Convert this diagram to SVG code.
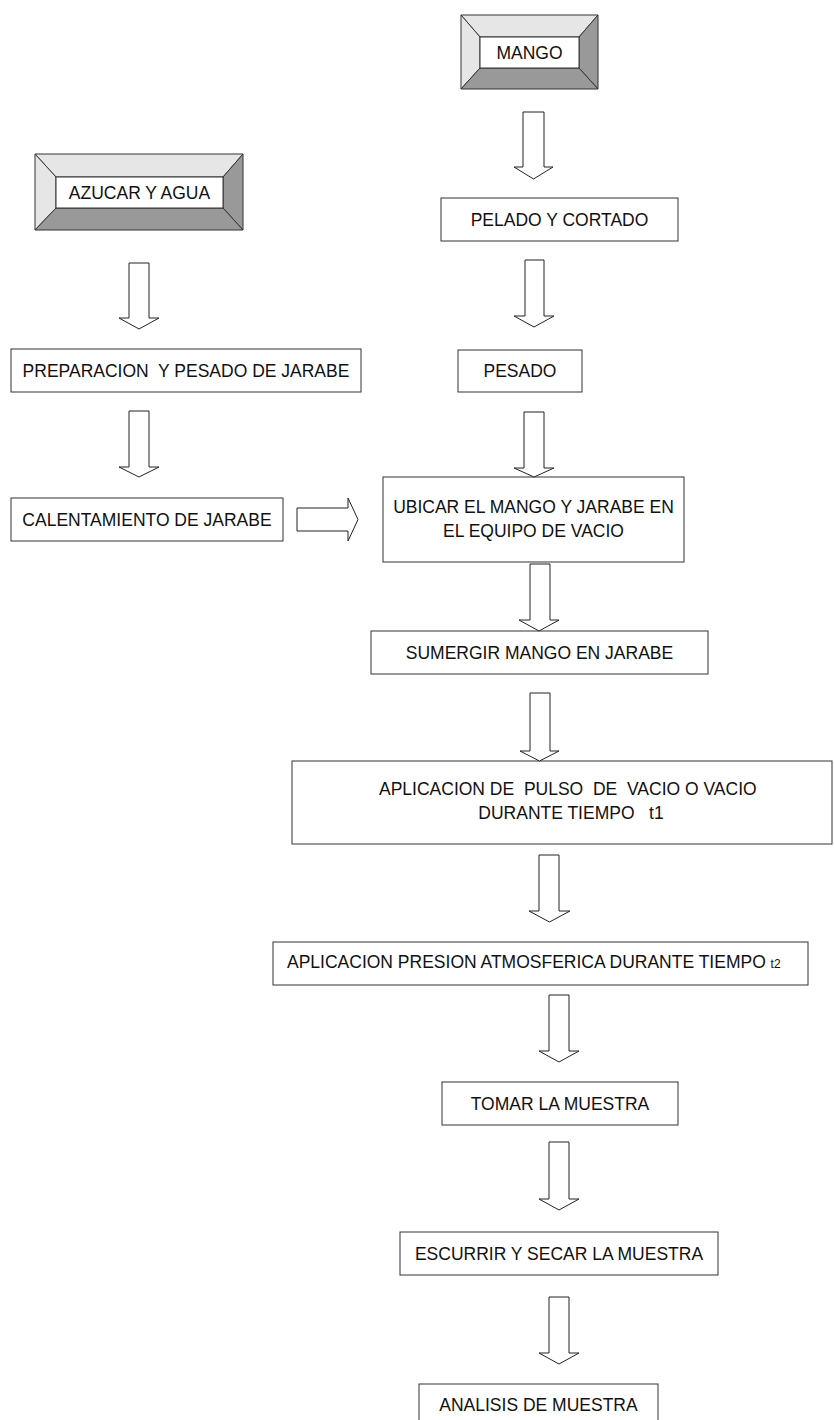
<svg xmlns="http://www.w3.org/2000/svg" width="834" height="1420" viewBox="0 0 834 1420">
  <style>
    .box { fill: #ffffff; stroke: #333333; stroke-width: 1; }
    .lbl { font-family: "Liberation Sans", Arial, sans-serif; font-size: 17.5px; fill: #111111; text-anchor: middle; white-space: pre; }
    .lft { text-anchor: start; }
    .light { fill: #e6e6e6; stroke: #333333; stroke-width: 1; stroke-linejoin: round; }
    .dark { fill: #999999; stroke: #333333; stroke-width: 1; stroke-linejoin: round; }
    .arrow { fill: #ffffff; stroke: #222222; stroke-width: 1; stroke-linejoin: miter; }
  </style>
  <rect x="0" y="0" width="834" height="1420" fill="#ffffff"/>

  <!-- bevelled source: MANGO -->
  <g id="mango">
    <polygon class="light" points="461,15 598,15 579,37 480,37"/>
    <polygon class="light" points="461,15 480,37 480,68 461,89"/>
    <polygon class="dark" points="598,15 598,89 579,68 579,37"/>
    <polygon class="dark" points="461,89 480,68 579,68 598,89"/>
    <rect class="box" x="480" y="37" width="99" height="31"/>
    <text class="lbl" x="529.5" y="59">MANGO</text>
  </g>

  <!-- bevelled source: AZUCAR Y AGUA -->
  <g id="azucar">
    <polygon class="light" points="35,154 243,154 223,177 56,177"/>
    <polygon class="light" points="35,154 56,177 56,208 35,230"/>
    <polygon class="dark" points="243,154 243,230 223,208 223,177"/>
    <polygon class="dark" points="35,230 56,208 223,208 243,230"/>
    <rect class="box" x="56" y="177" width="167" height="31"/>
    <text class="lbl" x="139.5" y="199">AZUCAR Y AGUA</text>
  </g>

  <g id="pelado">
    <rect class="box" x="441" y="198" width="237" height="43"/>
    <text class="lbl" x="559.5" y="225.5">PELADO Y CORTADO</text>
  </g>

  <g id="pesado">
    <rect class="box" x="458" y="350" width="124" height="42"/>
    <text class="lbl" x="520" y="377">PESADO</text>
  </g>

  <g id="preparacion">
    <rect class="box" x="11" y="349" width="350" height="43"/>
    <text class="lbl" x="186" y="377">PREPARACION  Y PESADO DE JARABE</text>
  </g>

  <g id="calentamiento">
    <rect class="box" x="11" y="498" width="272" height="43"/>
    <text class="lbl" x="147" y="526">CALENTAMIENTO DE JARABE</text>
  </g>

  <g id="ubicar">
    <rect class="box" x="383" y="477" width="301" height="85"/>
    <text class="lbl" x="533.5" y="513">UBICAR EL MANGO Y JARABE EN</text>
    <text class="lbl" x="533.5" y="537">EL EQUIPO DE VACIO</text>
  </g>

  <g id="sumergir">
    <rect class="box" x="371" y="631" width="337" height="43"/>
    <text class="lbl" x="539.5" y="659">SUMERGIR MANGO EN JARABE</text>
  </g>

  <g id="pulso">
    <rect class="box" x="292" y="761" width="540" height="83"/>
    <text class="lbl lft" x="379" y="795">APLICACION DE  PULSO  DE  VACIO O VACIO</text>
    <text class="lbl" x="571" y="819">DURANTE TIEMPO   t1</text>
  </g>

  <g id="presion">
    <rect class="box" x="273" y="942" width="535" height="43"/>
    <text class="lbl lft" x="287" y="968">APLICACION PRESION ATMOSFERICA DURANTE TIEMPO <tspan font-size="12">t2</tspan></text>
  </g>

  <g id="tomar">
    <rect class="box" x="442" y="1082" width="236" height="43"/>
    <text class="lbl" x="560" y="1110">TOMAR LA MUESTRA</text>
  </g>

  <g id="escurrir">
    <rect class="box" x="400" y="1232" width="318" height="43"/>
    <text class="lbl" x="559" y="1260">ESCURRIR Y SECAR LA MUESTRA</text>
  </g>

  <g id="analisis">
    <rect class="box" x="419" y="1384" width="239" height="42"/>
    <text class="lbl" x="538.5" y="1411">ANALISIS DE MUESTRA</text>
  </g>

  <!-- block arrows between steps -->
  <g id="connectors">
    <polygon class="arrow" points="523,112 544,112 544,167 553,167 533.5,179 514,167 523,167"/>
    <polygon class="arrow" points="525,260 544,260 544,316 554,316 534,327 514,316 525,316"/>
    <polygon class="arrow" points="524,412 544,412 544,468 554,468 534,477 514,468 524,468"/>
    <polygon class="arrow" points="129,263 149,263 149,318 159,318 139,329 119,318 129,318"/>
    <polygon class="arrow" points="129,411 149,411 149,467 159,467 139,477 119,467 129,467"/>
    <polygon class="arrow" points="297,508 348,508 348,498 358,519.5 348,541 348,531 297,531"/>
    <polygon class="arrow" points="530,564 550,564 550,620 559,620 539,631 519,620 530,620"/>
    <polygon class="arrow" points="530,693 550,693 550,751 559,751 539.5,761 520,751 530,751"/>
    <polygon class="arrow" points="539,855 559,855 559,911 570,911 549.5,922 529,911 539,911"/>
    <polygon class="arrow" points="549,995 569,995 569,1051 579,1051 559,1062 539,1051 549,1051"/>
    <polygon class="arrow" points="549,1142 569,1142 569,1199 579,1199 559,1210 539,1199 549,1199"/>
    <polygon class="arrow" points="549,1297 569,1297 569,1353 579,1353 559,1364 539,1353 549,1353"/>
  </g>
</svg>
